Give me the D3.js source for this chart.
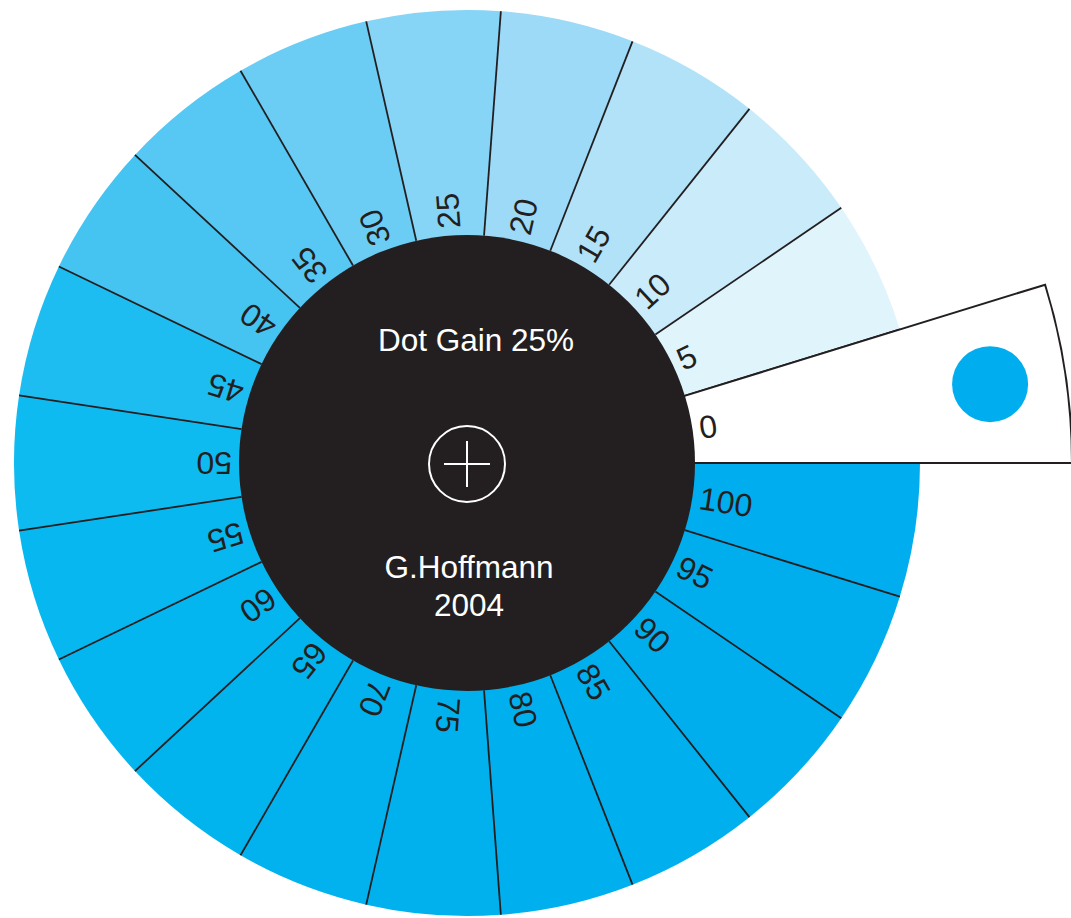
<!DOCTYPE html>
<html>
<head>
<meta charset="utf-8">
<script src="https://cdn.jsdelivr.net/npm/d3@7"></script>
<style>
  html, body { margin: 0; padding: 0; background: #ffffff; }
  svg { display: block; }
  text { font-family: "Liberation Sans", Arial, Helvetica, sans-serif; }
</style>
</head>
<body>
<svg id="chart" width="1071" height="918"></svg>
<script>
// Tint steps (percent) printed on the wheel, counter-clockwise from east
const tints = [0, 5, 10, 15, 20, 25, 30, 35, 40, 45, 50, 55, 60, 65, 70, 75, 80, 85, 90, 95, 100];
// Printed colour of each tint (with 25% dot gain)
const tintColors = ["#ffffff", "#e0f4fc", "#c9ebfa", "#b2e2f8", "#9cdaf7", "#86d4f6", "#6ccdf4",
  "#56c8f3", "#45c4f2", "#1dbdf1", "#0ebbf0", "#06b8ef", "#03b6ef", "#02b4ee", "#01b2ee",
  "#00b1ee", "#00b0ee", "#00afee", "#00aeee", "#00aeee", "#00adee"];
const titleText = "Dot Gain 25%";
const authorLines = ["G.Hoffmann", "2004"];
const pointerTint = 0;       // the tint slot that the pointer sits on
const referenceTint = 100;   // colour of the reference dot on the pointer

const W = 1071, H = 918;
const cx = 467, cy = 463;
const rInner = 228, rOuter = 453, rPointer = 605;
const ink = "#231f20";

const svg = d3.select("#chart");
const g = svg.append("g").attr("transform", `translate(${cx},${cy})`);

const step = 5;
// d3 angle: 0 at 12 o'clock, clockwise. Tint 0 starts at east and goes counter-clockwise.
const angle = d3.scaleLinear()
  .domain([0, tints.length * step])
  .range([Math.PI / 2, Math.PI / 2 - 2 * Math.PI]);
const colorOf = d3.scaleOrdinal().domain(tints).range(tintColors);

const arc = d3.arc();

// wheel segments
g.selectAll("path.seg")
  .data(tints)
  .join("path")
  .attr("class", "seg")
  .attr("fill", d => colorOf(d))
  .attr("d", d => arc({ innerRadius: 0, outerRadius: rOuter,
                        startAngle: angle(d + step), endAngle: angle(d) }));

// divider lines
g.selectAll("line.div")
  .data(tints)
  .join("line")
  .attr("class", "div")
  .attr("x1", d => rInner * Math.sin(angle(d)))
  .attr("y1", d => -rInner * Math.cos(angle(d)))
  .attr("x2", d => rOuter * Math.sin(angle(d)))
  .attr("y2", d => -rOuter * Math.cos(angle(d)))
  .attr("stroke", ink)
  .attr("stroke-width", 1.8);

// pointer arm
g.append("path")
  .attr("fill", "#ffffff")
  .attr("stroke", ink)
  .attr("stroke-width", 2)
  .attr("stroke-linejoin", "miter")
  .attr("d", arc({ innerRadius: rInner - 2, outerRadius: rPointer,
                   startAngle: angle(pointerTint + step), endAngle: angle(pointerTint) }));

// reference dot on the pointer
const aDot = angle(pointerTint + step / 2);
g.append("circle")
  .attr("cx", 529 * Math.sin(aDot))
  .attr("cy", -529 * Math.cos(aDot))
  .attr("r", 38)
  .attr("fill", colorOf(referenceTint));

// black hub
g.append("circle").attr("r", rInner).attr("fill", ink);

// tint labels
g.selectAll("text.lab")
  .data(tints)
  .join("text")
  .attr("class", "lab")
  .attr("transform", d => {
    const a = angle(d + step / 2);
    const deg = (Math.PI / 2 - a) * 180 / Math.PI; // math angle
    return `rotate(${-deg}) translate(235,0)`;
  })
  .attr("dy", "0.35em")
  .attr("text-anchor", "start")
  .attr("font-size", 32)
  .attr("fill", ink)
  .text(d => d);

// centre texts
g.append("text")
  .attr("x", 9).attr("y", 351 - cy)
  .attr("text-anchor", "middle")
  .attr("font-size", 31.5)
  .attr("fill", "#ffffff")
  .text(titleText);

g.selectAll("text.auth")
  .data(authorLines)
  .join("text")
  .attr("class", "auth")
  .attr("x", 2)
  .attr("y", (d, i) => 578 - cy + i * 38)
  .attr("text-anchor", "middle")
  .attr("font-size", 31.5)
  .attr("fill", "#ffffff")
  .text(d => d);

// crosshair
const ch = g.append("g").attr("transform", "translate(0,1)")
  .attr("stroke", "#ffffff").attr("stroke-width", 2).attr("fill", "none");
ch.append("circle").attr("r", 38);
ch.append("line").attr("x1", -23).attr("x2", 23).attr("y1", 0).attr("y2", 0);
ch.append("line").attr("y1", -23).attr("y2", 23).attr("x1", 0).attr("x2", 0);
</script>
</body>
</html>
